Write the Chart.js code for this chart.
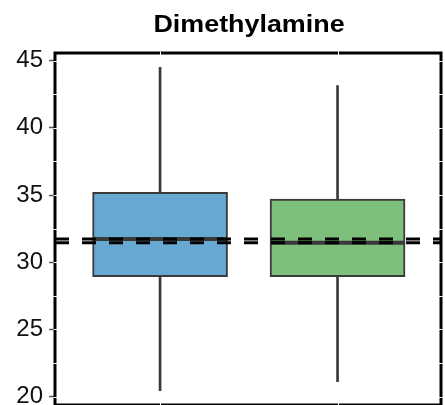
<!DOCTYPE html>
<html>
<head>
<meta charset="utf-8">
<script src="https://cdn.jsdelivr.net/npm/chart.js@4.4.1/dist/chart.umd.min.js"></script>
<style>
  html, body { margin: 0; padding: 0; background: #fff; overflow: hidden; }
  #wrap { width: 445px; height: 405px; }
</style>
</head>
<body>
<div id="wrap"><canvas id="grafico"></canvas></div>
<script>
const titulo = 'Dimethylamine';

// two groups, placed at x = 0 and x = 1
const groupPos = [0, 1];
const whiskerLow = [20.45, 21.12];
const q1 = [28.92, 28.92];
const medians = [31.74, 31.46];
const q3 = [35.2, 34.7];
const whiskerHigh = [44.5, 43.15];
const boxColors = ['#67a9d3', '#7dbf7b'];

const yTicks = [20, 25, 30, 35, 40, 45];
const yMin = 19.38, yMax = 45.57;
const xMin = -0.592, xMax = 1.583;

const edge = '#3a3a3a';

// black frame with white grid lines showing through it, plus the title
const framePlugin = {
    id: 'frame',
    beforeDatasetsDraw(chart) {
        const { ctx, chartArea: a, scales } = chart;
        ctx.save();
        ctx.strokeStyle = '#000';
        ctx.lineWidth = 3;
        ctx.strokeRect(a.left, a.top, a.right - a.left, a.bottom - a.top);
        ctx.strokeStyle = '#fff';
        ctx.lineWidth = 1;
        yTicks.forEach(v => {
            [v, v + 2.5, v - 2.5].forEach(g => {
                if (g < yMin || g > yMax) return;
                const y = Math.round(scales.y.getPixelForValue(g)) + 0.5;
                ctx.beginPath();
                ctx.moveTo(a.left - 1.5, y);
                ctx.lineTo(a.right + 1.5, y);
                ctx.stroke();
            });
        });
        groupPos.forEach(v => {
            const x = Math.round(scales.x.getPixelForValue(v)) + 0.5;
            ctx.beginPath();
            ctx.moveTo(x, a.top - 1.5);
            ctx.lineTo(x, a.bottom + 1.5);
            ctx.stroke();
        });
        ctx.restore();
    },
    afterDraw(chart) {
        const { ctx, chartArea: a } = chart;
        ctx.save();
        ctx.fillStyle = '#000';
        ctx.font = 'bold 24px "Liberation Sans", Arial, sans-serif';
        ctx.textAlign = 'center';
        ctx.textBaseline = 'alphabetic';
        ctx.translate((a.left + a.right) / 2 + 1, 31.5);
        ctx.scale(1.12, 1);
        ctx.fillText(titulo, 0, 0);
        ctx.restore();
    }
};

const dashedLines = medians.map(m => ({
    type: 'line',
    data: [{ x: xMin, y: m }, { x: xMax, y: m }],
    borderColor: '#000',
    borderWidth: 3,
    borderDash: [14, 13],
    pointRadius: 0,
    order: 0,
}));

new Chart(document.getElementById('grafico'), {
    type: 'bar',
    data: {
        datasets: [
            ...dashedLines,
            {
                type: 'line',
                data: groupPos.map((x, i) => ({ x: x, y: medians[i] })),
                showLine: false,
                pointStyle: 'line',
                pointRadius: 67,
                pointBorderWidth: 4,
                pointBorderColor: edge,
                order: 1,
            },
            {
                data: groupPos.map((x, i) => ({ x: x, y: [q1[i], q3[i]] })),
                backgroundColor: boxColors,
                borderColor: edge,
                borderWidth: 2,
                borderSkipped: false,
                barThickness: 135,
                grouped: false,
                order: 2,
            },
            {
                data: groupPos.map((x, i) => ({ x: x, y: [whiskerLow[i], whiskerHigh[i]] })),
                backgroundColor: edge,
                borderWidth: 0,
                barThickness: 2,
                grouped: false,
                order: 3,
            },
        ]
    },
    options: {
        responsive: true,
        maintainAspectRatio: false,
        animation: false,
        events: [],
        layout: { autoPadding: false, padding: { top: 53, right: 4, bottom: 0, left: 0 } },
        plugins: {
            legend: { display: false },
            tooltip: { enabled: false },
        },
        scales: {
            x: {
                type: 'linear',
                min: xMin,
                max: xMax,
                offset: false,
                display: false,
                afterBuildTicks: s => { s.ticks = groupPos.map(v => ({ value: v })); },
            },
            y: {
                min: yMin,
                max: yMax,
                afterBuildTicks: s => { s.ticks = yTicks.map(v => ({ value: v })); },
                afterFit: s => {
                    s.width = 55;
                    s.paddingTop = 0;
                    s.paddingBottom = 0;
                },
                border: { display: false },
                grid: {
                    drawOnChartArea: false,
                    tickLength: 6,
                    tickColor: '#555',
                    tickWidth: 1.5,
                },
                ticks: {
                    padding: 6,
                    color: '#111',
                    font: { family: 'Liberation Sans', size: 24 },
                },
            },
        },
    },
    plugins: [framePlugin],
});
</script>
</body>
</html>
